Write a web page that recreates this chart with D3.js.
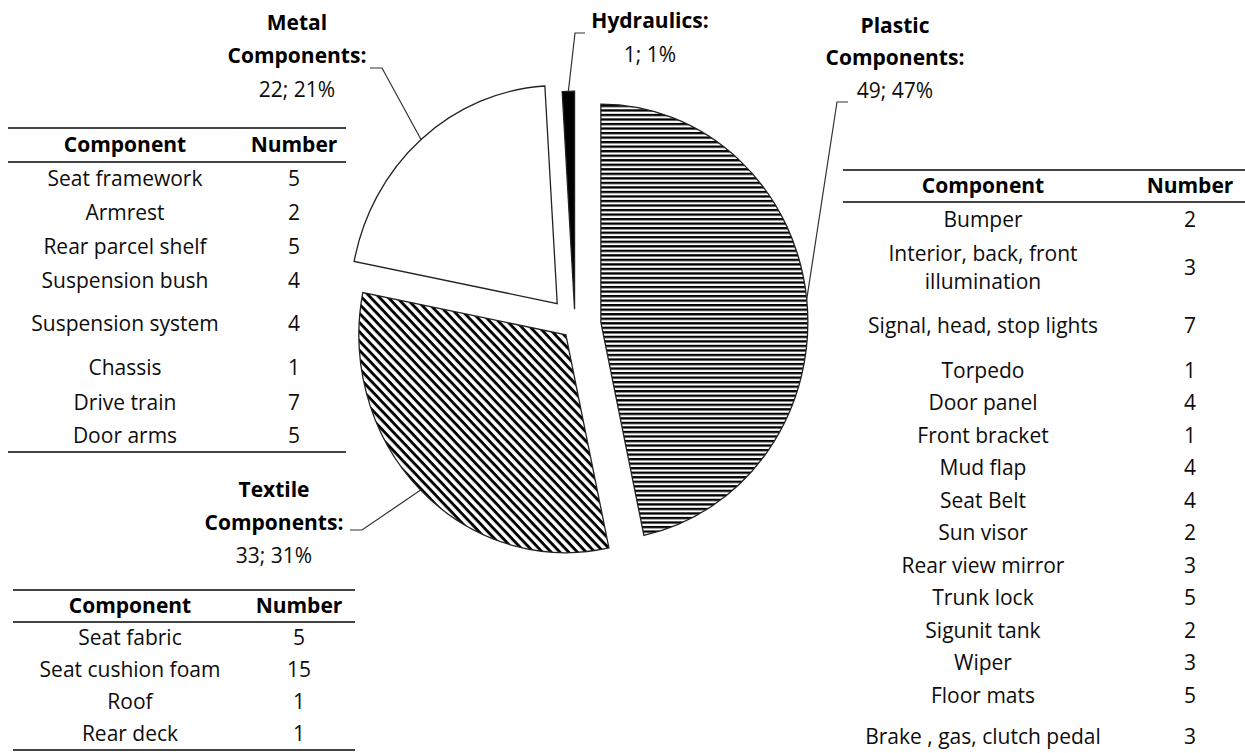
<!DOCTYPE html>
<html lang="en">
<head>
<meta charset="UTF-8">
<title>Component pie</title>
<script src="https://d3js.org/d3.v7.min.js"></script>
<style>
    body { margin: 0; background: #fff; }
    svg text { font-family: "Open Sans", sans-serif; font-size: 21px; fill: #0d0d0d; }
    .bold { font-weight: bold; fill: #000; }
</style>
</head>
<body>
<div id="chart"></div>
<script>
    // pie data (clockwise from 12 o'clock)
    const categories = ["Plastic", "Textile", "Metal", "Hydraulics"];
    const labelLines = [["Plastic", "Components:"], ["Textile", "Components:"], ["Metal", "Components:"], ["Hydraulics:"]];
    const counts = [49, 33, 22, 1];

    // tables
    const metalTableParts = ["Seat framework", "Armrest", "Rear parcel shelf", "Suspension bush",
        "Suspension system", "Chassis", "Drive train", "Door arms"];
    const metalTableNumbers = [5, 2, 5, 4, 4, 1, 7, 5];

    const textileTableParts = ["Seat fabric", "Seat cushion foam", "Roof", "Rear deck"];
    const textileTableNumbers = [5, 15, 1, 1];

    const plasticTableParts = ["Bumper", "Interior, back, front|illumination", "Signal, head, stop lights",
        "Torpedo", "Door panel", "Front bracket", "Mud flap", "Seat Belt", "Sun visor",
        "Rear view mirror", "Trunk lock", "Sigunit tank", "Wiper", "Floor mats", "Brake , gas, clutch pedal"];
    const plasticTableNumbers = [2, 3, 7, 1, 4, 1, 4, 4, 2, 3, 5, 2, 3, 5, 3];

    const headers = ["Component", "Number"];

    const width = 1245, height = 753;
    const svg = d3.select("#chart").append("svg")
        .attr("width", width)
        .attr("height", height);

    // ---- patterns
    const defs = svg.append("defs");
    const hz = defs.append("pattern")
        .attr("id", "hatch-h")
        .attr("patternUnits", "userSpaceOnUse")
        .attr("width", 8).attr("height", 4.3);
    hz.append("rect").attr("width", 8).attr("height", 4.3).attr("fill", "#fff");
    hz.append("rect").attr("y", 0).attr("width", 8).attr("height", 2.2).attr("fill", "#000");

    const dg = defs.append("pattern")
        .attr("id", "hatch-d")
        .attr("patternUnits", "userSpaceOnUse")
        .attr("width", 8).attr("height", 6.2)
        .attr("patternTransform", "rotate(45)");
    dg.append("rect").attr("width", 8).attr("height", 6.2).attr("fill", "#fff");
    dg.append("rect").attr("width", 8).attr("height", 2.8).attr("fill", "#000");

    const fills = { Plastic: "url(#hatch-h)", Textile: "url(#hatch-d)", Metal: "#fff", Hydraulics: "#000" };
    const explode = { Plastic: 26, Textile: 13, Metal: 27, Hydraulics: 15 };

    // ---- pie
    const cx = 575, cy = 325, rx = 207, ry = 218;
    const k = ry / rx;
    const total = d3.sum(counts);
    const pieData = categories.map((c, i) => ({ name: c, value: counts[i], lines: labelLines[i] }));
    const arcs = d3.pie().sort(null).value(d => d.value)(pieData);
    const arc = d3.arc().innerRadius(0).outerRadius(rx);

    const pieG = svg.append("g")
        .attr("transform", `translate(${cx},${cy}) scale(1,${k})`);

    function offset(d) {
        const a = (d.startAngle + d.endAngle) / 2;
        const e = explode[d.data.name];
        return [Math.sin(a) * e, -Math.cos(a) * e];
    }

    pieG.selectAll("path")
        .data(arcs)
        .join("path")
        .attr("transform", d => `translate(${offset(d)[0]},${offset(d)[1]})`)
        .attr("d", arc)
        .attr("fill", d => fills[d.data.name])
        .attr("stroke", "#222")
        .attr("stroke-width", 1.3)
        .attr("vector-effect", "non-scaling-stroke");

    // point on the outer arc at the slice middle, in page coordinates
    function edgePoint(d) {
        const a = (d.startAngle + d.endAngle) / 2;
        const o = offset(d);
        return [cx + o[0] + Math.sin(a) * rx, cy + (o[1] - Math.cos(a) * rx) * k];
    }

    // ---- labels
    const labelLayout = {
        Metal: { x: 297, y: [30, 63, 97], lead: [[370, 68], [382, 68]] },
        Hydraulics: { x: 650, y: [28, 62], lead: [[585, 33], [575, 33]] },
        Plastic: { x: 895, y: [33, 65, 98], lead: [[848, 102], [837, 102]] },
        Textile: { x: 274, y: [497, 530, 563], lead: [[350, 530], [362, 530]] }
    };

    arcs.forEach(d => {
        const L = labelLayout[d.data.name];
        const pct = Math.round(d.data.value / total * 100);
        const lines = d.data.lines.concat([`${d.data.value}; ${pct}%`]);
        lines.forEach((t, i) => {
            svg.append("text")
                .attr("class", i < lines.length - 1 ? "bold" : null)
                .attr("x", L.x)
                .attr("y", L.y[i])
                .attr("text-anchor", "middle")
                .text(t);
        });
        svg.append("path")
            .attr("d", d3.line()(L.lead.concat([edgePoint(d)])))
            .attr("fill", "none")
            .attr("stroke", "#333")
            .attr("stroke-width", 1.2);
    });

    // ---- tables
    function drawTable(parts, numbers, opt) {
        const g = svg.append("g");
        const rule = y => g.append("line")
            .attr("x1", opt.x0).attr("x2", opt.x1)
            .attr("y1", y).attr("y2", y)
            .attr("stroke", "#444").attr("stroke-width", 2);

        rule(opt.top);
        rule(opt.top + opt.headH);
        const hy = opt.top + opt.headH / 2;
        [opt.c1, opt.c2].forEach((x, i) => {
            g.append("text").attr("class", "bold")
                .attr("x", x).attr("y", hy).attr("dy", "0.35em")
                .attr("text-anchor", "middle").text(headers[i]);
        });

        let y = opt.top + opt.headH;
        parts.forEach((p, i) => {
            const h = opt.rowH[i];
            const mid = y + h / 2;
            const lines = p.split("|");
            lines.forEach((t, j) => {
                g.append("text")
                    .attr("x", opt.c1)
                    .attr("y", mid + (j - (lines.length - 1) / 2) * 28)
                    .attr("dy", "0.35em")
                    .attr("text-anchor", "middle")
                    .text(t);
            });
            g.append("text")
                .attr("x", opt.c2).attr("y", mid).attr("dy", "0.35em")
                .attr("text-anchor", "middle")
                .text(numbers[i]);
            y += h;
        });
        rule(y);
    }

    drawTable(metalTableParts, metalTableNumbers, {
        x0: 8, x1: 346, c1: 125, c2: 294, top: 128, headH: 34,
        rowH: [34, 34, 34, 34, 52, 36, 33, 33]
    });
    drawTable(textileTableParts, textileTableNumbers, {
        x0: 13, x1: 355, c1: 130, c2: 299, top: 590, headH: 32,
        rowH: [32, 32, 32, 32]
    });
    drawTable(plasticTableParts, plasticTableNumbers, {
        x0: 843, x1: 1245, c1: 983, c2: 1190, top: 170, headH: 32,
        rowH: [36, 60, 56, 32.5, 32.5, 32.5, 32.5, 32.5, 32.5, 32.5, 32.5, 32.5, 32.5, 32.5, 51]
    });
</script>
</body>
</html>
